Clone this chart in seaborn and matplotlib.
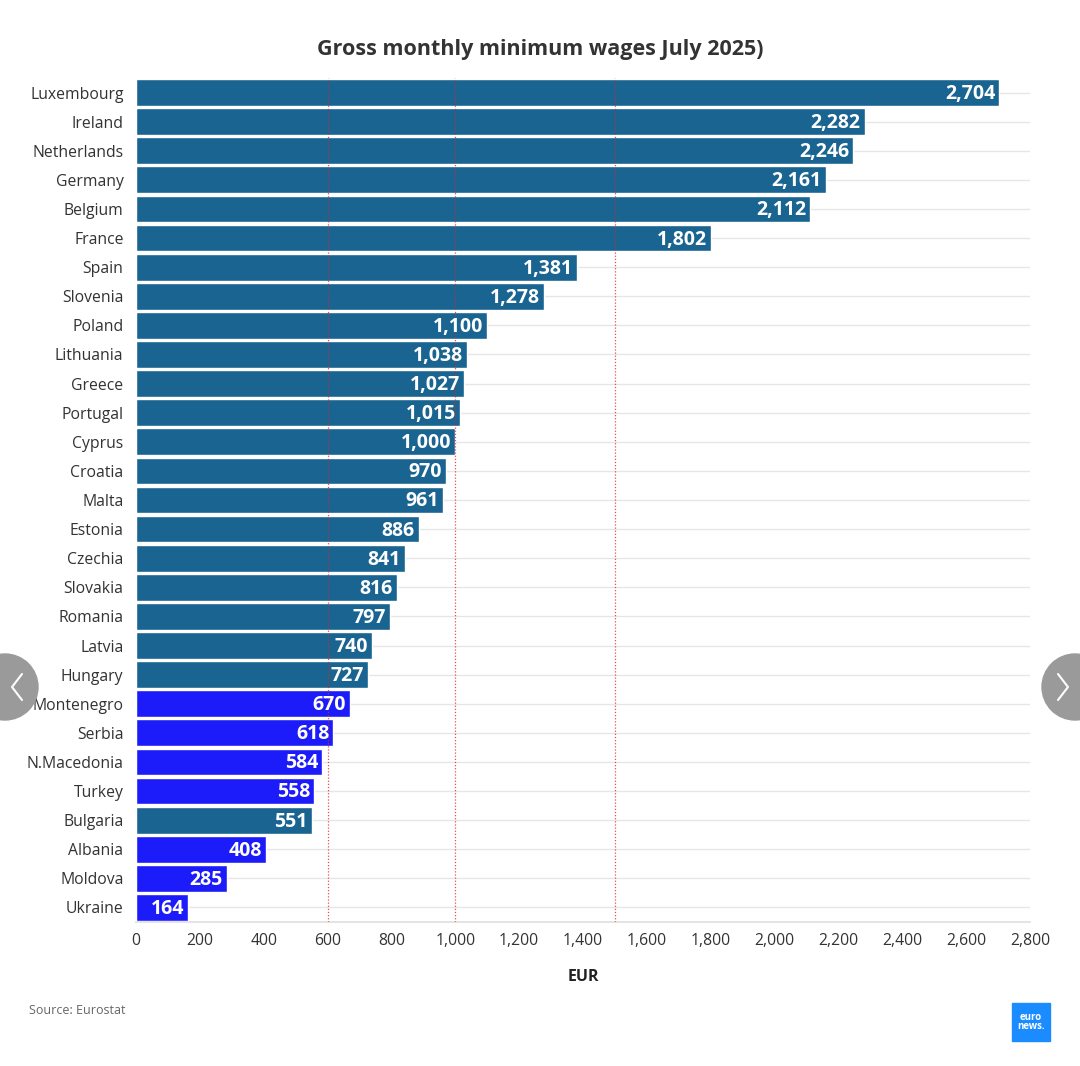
import matplotlib
matplotlib.use("Agg")
import matplotlib.pyplot as plt
import matplotlib.patches as mpatches
import seaborn as sns
import pandas as pd

countries = ["Luxembourg", "Ireland", "Netherlands", "Germany", "Belgium", "France",
             "Spain", "Slovenia", "Poland", "Lithuania", "Greece", "Portugal", "Cyprus",
             "Croatia", "Malta", "Estonia", "Czechia", "Slovakia", "Romania", "Latvia",
             "Hungary", "Montenegro", "Serbia", "N.Macedonia", "Turkey", "Bulgaria",
             "Albania", "Moldova", "Ukraine"]
wages = [2704, 2282, 2246, 2161, 2112, 1802, 1381, 1278, 1100, 1038, 1027, 1015, 1000,
         970, 961, 886, 841, 816, 797, 740, 727, 670, 618, 584, 558, 551, 408, 285, 164]
groups = ["EU"] * 21 + ["Non-EU"] * 4 + ["EU"] + ["Non-EU"] * 3
ref_lines = [600, 1000, 1500]
xticks = list(range(0, 2801, 200))

df = pd.DataFrame({"country": countries, "wage": wages, "group": groups})

sns.set_theme(style="white")
plt.rcParams["font.family"] = ["Open Sans", "DejaVu Sans"]

fig = plt.figure(figsize=(10.8, 10.66), dpi=100)
ax = fig.add_axes([136 / 1080, 1 - 922 / 1066, (1030 - 136) / 1080, (922 - 78) / 1066])

palette = {"EU": "#1a6491", "Non-EU": "#1c1cfa"}
sns.barplot(data=df, x="wage", y="country", hue="group", palette=palette,
            dodge=False, legend=False, width=0.92, saturation=1, ax=ax, zorder=2)

ax.set_xlim(0, 2800)
ax.set_ylim(len(countries) - 0.5, -0.5)
ax.set_xticks(xticks)
ax.set_xticklabels([f"{v:,}" for v in xticks], fontsize=11.3, color="#333333")
ax.tick_params(axis="y", labelsize=11.3, colors="#333333", length=5, color="#e0e0e0", pad=4)
ax.tick_params(axis="x", length=0, pad=8)

for i in range(len(countries)):
    ax.axhline(i, color="#e6e6e6", lw=1, zorder=0)

for v in ref_lines:
    ax.axvline(v, color="#d62728", lw=0.9, ls=(0, (1, 1.5)), alpha=0.8, zorder=3)

for i, (c, w) in enumerate(zip(countries, wages)):
    ax.text(w - 13, i + 0.05, f"{w:,}", ha="right", va="center", color="white",
            fontsize=14, fontweight="bold", zorder=4)

for s in ["top", "right", "left"]:
    ax.spines[s].set_visible(False)
ax.spines["bottom"].set_color("#e0e0e0")
ax.set_ylabel("")
ax.set_xlabel("EUR", fontsize=11.5, fontweight="bold", color="#222222", labelpad=14)

fig.text(0.5, 1 - 49 / 1066, "Gross monthly minimum wages July 2025)", ha="center",
         va="center", fontsize=15.5, fontweight="bold", color="#333333")
fig.text(29 / 1080, 1 - 1011 / 1066, "Source: Eurostat", ha="left", va="center",
         fontsize=9, color="#666666")

# logo
fig.patches.append(mpatches.Rectangle((1012 / 1080, 1 - 1041 / 1066), 38 / 1080, 38 / 1066,
                                      transform=fig.transFigure, color="#1a8cff"))
fig.text(1031 / 1080, 1 - 1022 / 1066, "euro\nnews.", ha="center", va="center",
         fontsize=7, color="white", linespacing=0.8, fontweight="bold")

# navigation arrows
for cx in [5, 1075]:
    circ = mpatches.Ellipse((cx / 1080, 1 - 687 / 1066), 66 / 1080, 66 / 1066,
                            transform=fig.transFigure, color="#9a9a9a", zorder=10)
    fig.patches.append(circ)
fig.lines.append(plt.Line2D([22 / 1080, 12 / 1080, 22 / 1080],
                            [1 - 674 / 1066, 1 - 687 / 1066, 1 - 700 / 1066],
                            transform=fig.transFigure, color="white", lw=1.5, zorder=11))
fig.lines.append(plt.Line2D([1058 / 1080, 1068 / 1080, 1058 / 1080],
                            [1 - 674 / 1066, 1 - 687 / 1066, 1 - 700 / 1066],
                            transform=fig.transFigure, color="white", lw=1.5, zorder=11))

fig.savefig("out.png", dpi=100, facecolor="white")
